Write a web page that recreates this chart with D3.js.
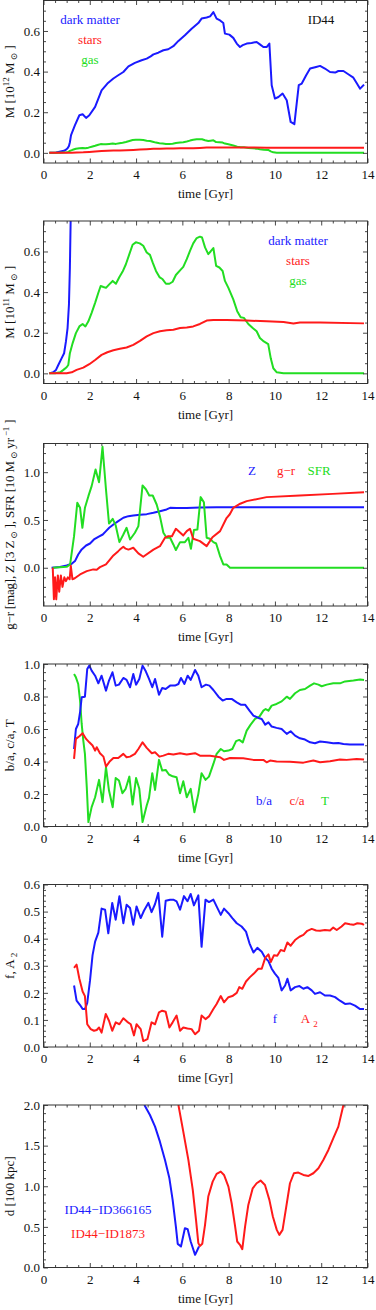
<!DOCTYPE html>
<html>
<head>
<meta charset="utf-8">
<script src="https://cdn.jsdelivr.net/npm/d3@7"></script>
<style>
body { margin: 0; background: #fff; }
svg text { font-family: "Liberation Serif", "Times New Roman", "DejaVu Serif", serif; font-size: 13px; fill: #111; }
</style>
</head>
<body>
<svg id="chart" width="376" height="1310"></svg>
<script>
// ticks
var xTicks = [0, 2, 4, 6, 8, 10, 12, 14];
var massTicks = [0, 0.2, 0.4, 0.6];
var colourTicks = [0, 0.5, 1.0];
var shapeTicks = [0, 0.2, 0.4, 0.6, 0.8, 1.0];
var barTicks = [0, 0.1, 0.2, 0.3, 0.4, 0.5, 0.6];
var distTicks = [0, 0.5, 1.0, 1.5, 2.0];

// masses in 10^11 Msun, [time Gyr, value]
var dmMass = [[0.25,0],[0.42,0.005],[0.54,0.017],[0.64,0.041],[0.78,0.074],[0.89,0.099],[0.97,0.157],[1.04,0.223],[1.10,0.339],[1.14,0.52],
  [1.19,0.87],[1.36,1.36],[1.55,1.85],[1.69,1.90],[1.84,1.72],[1.98,1.85],[2.23,2.26],[2.51,3.08],[2.76,3.41],[3.02,3.66],
  [3.23,3.82],[3.45,3.98],[3.67,4.26],[3.95,4.43],[4.24,4.56],[4.46,4.64],[4.63,4.75],[4.75,4.85],[4.96,4.93],[5.18,5.05],
  [5.39,5.10],[5.61,5.25],[5.83,5.51],[6.11,5.79],[6.40,6.11],[6.69,6.39],[6.83,6.61],[7.05,6.66],[7.20,6.72],[7.34,6.93],
  [7.48,6.61],[7.63,6.52],[7.77,6.39],[7.84,5.87],[8.03,5.82],[8.20,5.66],[8.35,5.38],[8.49,5.21],[8.61,5.30],[8.78,5.38],
  [8.99,5.41],[9.21,5.46],[9.35,5.34],[9.50,5.21],[9.64,5.21],[9.76,5.38],[9.86,3.33],[10.0,2.67],[10.15,2.75],[10.33,2.92],
  [10.51,2.59],[10.68,1.52],[10.84,1.41],[11.03,3.33],[11.16,3.41],[11.35,3.82],[11.52,4.15],[11.78,4.23],[11.95,4.28],[12.16,4.15],
  [12.38,3.98],[12.6,3.95],[12.74,4.03],[12.96,4.03],[13.17,3.87],[13.39,3.70],[13.53,3.44],[13.68,3.16],[13.85,3.36]];
var starMass = [[0.25,0],[1.0,0],[1.22,0.005],[1.43,0.017],[1.72,0.028],[1.98,0.045],[2.23,0.066],[2.51,0.091],[2.76,0.104],[3.02,0.114],
  [3.30,0.121],[3.59,0.127],[3.88,0.140],[4.17,0.160],[4.46,0.182],[4.75,0.198],[5.03,0.207],[5.32,0.212],[5.61,0.215],[5.90,0.223],
  [6.19,0.226],[6.47,0.231],[6.76,0.243],[7.05,0.260],[7.34,0.263],[7.92,0.263],[8.78,0.260],[9.64,0.256],[10.37,0.253],[10.80,0.245],
  [11.08,0.250],[11.95,0.250],[13.85,0.246]];
var gasMass = [[0.25,0],[0.5,0],[0.72,0.005],[0.86,0.017],[1.0,0.03],[1.07,0.041],[1.14,0.099],[1.26,0.149],[1.40,0.198],[1.55,0.231],
  [1.69,0.243],[1.81,0.231],[1.94,0.256],[2.08,0.298],[2.23,0.347],[2.37,0.397],[2.47,0.430],[2.59,0.425],[2.70,0.421],[2.84,0.438],
  [2.99,0.455],[3.13,0.441],[3.28,0.474],[3.42,0.501],[3.56,0.537],[3.71,0.587],[3.85,0.633],[3.99,0.645],[4.16,0.640],[4.31,0.628],
  [4.46,0.595],[4.60,0.583],[4.72,0.545],[4.86,0.504],[5.01,0.474],[5.15,0.463],[5.29,0.441],[5.44,0.441],[5.58,0.451],[5.72,0.484],
  [5.90,0.507],[6.04,0.524],[6.19,0.562],[6.33,0.603],[6.47,0.640],[6.62,0.666],[6.76,0.673],[6.85,0.669],[6.98,0.620],[7.12,0.587],
  [7.22,0.600],[7.34,0.617],[7.46,0.529],[7.60,0.521],[7.74,0.504],[7.84,0.455],[7.99,0.421],[8.20,0.364],[8.37,0.306],[8.52,0.276],
  [8.66,0.273],[8.85,0.243],[9.04,0.223],[9.21,0.207],[9.35,0.174],[9.52,0.157],[9.71,0.144],[9.82,0.074],[9.93,0.025],[10.08,0.005],
  [10.37,0],[13.85,0]];

// metallicity, colour, star formation
var metalZ = [[0.35,0],[0.71,0.007],[1.0,0.024],[1.22,0.042],[1.36,0.070],[1.50,0.139],[1.65,0.192],[1.84,0.233],[2.01,0.254],[2.18,0.296],
  [2.37,0.324],[2.56,0.348],[2.70,0.383],[2.84,0.418],[3.02,0.453],[3.23,0.488],[3.45,0.523],[3.67,0.540],[3.88,0.547],[4.17,0.554],
  [4.46,0.561],[4.75,0.575],[5.03,0.592],[5.32,0.610],[5.47,0.627],[5.75,0.624],[6.19,0.624],[6.76,0.631],[7.48,0.634],[13.85,0.634]];
var colourGR = [[0.40,0],[0.45,-0.33],[0.50,-0.10],[0.55,-0.33],[0.62,-0.08],[0.68,-0.25],[0.75,-0.08],[0.82,-0.20],[0.90,-0.10],[0.97,-0.14],
  [1.05,-0.10],[1.13,-0.12],[1.18,0.02],[1.25,-0.12],[1.35,-0.11],[1.58,-0.07],[1.87,-0.035],[2.15,-0.017],[2.30,-0.02],[2.44,0.007],
  [2.70,0.035],[3.02,0.129],[3.23,0.174],[3.30,0.19],[3.45,0.22],[3.55,0.20],[3.67,0.19],[3.88,0.209],[4.10,0.15],[4.31,0.115],
  [4.75,0.19],[5.03,0.226],[5.25,0.314],[5.39,0.331],[5.55,0.33],[5.72,0.408],[6.04,0.338],[6.19,0.383],[6.33,0.408],[6.47,0.303],
  [6.76,0.279],[7.05,0.226],[7.30,0.32],[7.63,0.383],[7.91,0.52],[8.05,0.56],[8.20,0.627],[8.50,0.67],[8.78,0.697],[9.64,0.739],
  [11.08,0.756],[12.5,0.773],[13.85,0.79]];
var sfrRate = [[0.40,0],[1.0,0.01],[1.15,0.035],[1.32,0.33],[1.46,0.68],[1.58,0.627],[1.68,0.418],[1.79,0.627],[1.94,0.749],[2.08,0.854],
  [2.25,1.028],[2.40,0.895],[2.55,1.265],[2.70,0.819],[2.83,0.463],[2.99,0.512],[3.12,0.443],[3.28,0.268],[3.45,0.348],[3.59,0.418],
  [3.74,0.296],[3.95,0.366],[4.10,0.436],[4.28,0.861],[4.43,0.819],[4.57,0.756],[4.72,0.756],[4.89,0.662],[5.03,0.540],[5.18,0.366],
  [5.32,0.314],[5.47,0.314],[5.61,0.244],[5.72,0.185],[5.90,0.268],[6.11,0.268],[6.26,0.314],[6.37,0.199],[6.50,0.394],[6.65,0.40],
  [6.79,0.739],[6.93,0.686],[7.05,0.314],[7.19,0.303],[7.34,0.268],[7.46,0.254],[7.63,0.122],[7.77,0.035],[7.91,0.035],[8.06,0],
  [13.85,0]];

// shape ratios
var ratioBA = [[1.32,0.477],[1.40,0.600],[1.50,0.631],[1.58,0.703],[1.65,0.795],[1.79,0.799],[1.89,0.969],[1.98,0.99],[2.08,0.959],[2.23,0.928],
  [2.37,0.881],[2.51,0.928],[2.70,0.836],[2.83,0.898],[2.98,0.949],[3.12,0.867],[3.26,0.873],[3.45,0.914],[3.59,0.902],[3.74,0.857],
  [3.88,0.939],[4.0,0.873],[4.14,0.908],[4.28,0.99],[4.42,0.955],[4.56,0.908],[4.70,0.857],[4.82,0.908],[4.99,0.811],[5.13,0.852],
  [5.28,0.846],[5.47,0.867],[5.68,0.867],[5.83,0.877],[5.94,0.914],[6.09,0.877],[6.23,0.928],[6.36,0.902],[6.55,0.963],[6.69,0.928],
  [6.83,0.857],[7.02,0.873],[7.17,0.867],[7.34,0.840],[7.56,0.799],[7.74,0.775],[7.91,0.785],[8.13,0.785],[8.35,0.764],[8.52,0.750],
  [8.71,0.750],[8.90,0.713],[9.07,0.682],[9.29,0.668],[9.43,0.662],[9.58,0.627],[9.72,0.641],[9.86,0.615],[10.07,0.607],[10.29,0.600],
  [10.51,0.570],[10.68,0.586],[10.87,0.559],[11.08,0.543],[11.30,0.535],[11.52,0.518],[11.73,0.512],[11.95,0.523],[12.24,0.518],[12.52,0.512],
  [12.74,0.514],[12.96,0.508],[13.24,0.504],[13.85,0.504]];
var ratioCA = [[1.32,0.416],[1.40,0.539],[1.55,0.555],[1.69,0.574],[1.84,0.539],[1.98,0.518],[2.12,0.498],[2.23,0.467],[2.30,0.488],[2.44,0.451],
  [2.59,0.430],[2.70,0.369],[2.87,0.402],[3.02,0.422],[3.23,0.422],[3.45,0.447],[3.59,0.426],[3.74,0.430],[3.95,0.447],[4.10,0.477],
  [4.28,0.518],[4.46,0.484],[4.68,0.451],[4.82,0.457],[5.01,0.430],[5.18,0.436],[5.39,0.447],[5.61,0.443],[5.90,0.451],[6.19,0.443],
  [6.55,0.451],[6.76,0.436],[7.20,0.436],[7.63,0.426],[7.80,0.410],[8.06,0.422],[8.63,0.420],[9.07,0.410],[9.50,0.410],[9.64,0.395],
  [9.79,0.406],[10.07,0.400],[10.65,0.398],[11.23,0.393],[11.66,0.406],[11.95,0.395],[12.38,0.402],[12.81,0.412],[13.10,0.410],[13.53,0.416],
  [13.85,0.412]];
var triaxT = [[1.32,0.939],[1.40,0.918],[1.50,0.877],[1.58,0.775],[1.65,0.631],[1.72,0.529],[1.79,0.447],[1.87,0.242],[1.94,0.027],[2.08,0.119],
  [2.23,0.180],[2.40,0.287],[2.55,0.150],[2.70,0.365],[2.83,0.221],[2.99,0.119],[3.12,0.299],[3.26,0.283],[3.41,0.205],[3.55,0.232],
  [3.71,0.307],[3.85,0.135],[4.0,0.299],[4.14,0.232],[4.28,0.027],[4.46,0.129],[4.56,0.176],[4.70,0.328],[4.82,0.225],[4.99,0.410],
  [5.13,0.344],[5.28,0.348],[5.42,0.320],[5.58,0.309],[5.75,0.303],[5.90,0.205],[6.04,0.279],[6.19,0.180],[6.36,0.232],[6.52,0.088],
  [6.69,0.201],[6.83,0.328],[7.0,0.287],[7.15,0.307],[7.34,0.385],[7.48,0.447],[7.66,0.477],[7.80,0.463],[7.99,0.467],[8.16,0.477],
  [8.32,0.525],[8.46,0.533],[8.61,0.518],[8.78,0.590],[8.95,0.627],[9.14,0.662],[9.33,0.676],[9.50,0.713],[9.60,0.723],[9.72,0.713],
  [9.86,0.744],[10.07,0.754],[10.29,0.770],[10.51,0.799],[10.65,0.785],[10.87,0.820],[11.08,0.840],[11.30,0.846],[11.52,0.867],[11.69,0.881],
  [11.88,0.873],[12.02,0.863],[12.24,0.873],[12.52,0.881],[12.81,0.881],[13.03,0.893],[13.39,0.898],[13.68,0.904],[13.85,0.902]];

// disc fraction and bar strength
var discF = [[1.32,0.227],[1.43,0.171],[1.58,0.155],[1.69,0.140],[1.79,0.140],[1.89,0.163],[2.01,0.246],[2.12,0.339],[2.23,0.389],[2.37,0.422],
  [2.51,0.511],[2.66,0.507],[2.80,0.420],[2.97,0.532],[3.12,0.470],[3.28,0.557],[3.45,0.457],[3.59,0.525],[3.74,0.513],[3.88,0.451],
  [4.02,0.519],[4.20,0.476],[4.34,0.503],[4.53,0.532],[4.67,0.498],[4.82,0.528],[4.96,0.569],[5.13,0.407],[5.28,0.540],[5.47,0.544],
  [5.61,0.544],[5.75,0.538],[5.90,0.507],[6.07,0.557],[6.22,0.538],[6.36,0.565],[6.50,0.523],[6.69,0.560],[6.83,0.370],[7.0,0.544],
  [7.15,0.535],[7.34,0.544],[7.48,0.519],[7.66,0.488],[7.80,0.511],[7.99,0.494],[8.16,0.476],[8.35,0.457],[8.56,0.445],[8.75,0.426],
  [8.90,0.383],[9.07,0.349],[9.24,0.366],[9.43,0.352],[9.58,0.329],[9.72,0.317],[9.86,0.289],[10.0,0.271],[10.15,0.255],[10.29,0.209],
  [10.44,0.227],[10.54,0.252],[10.68,0.209],[10.87,0.221],[11.06,0.225],[11.23,0.215],[11.40,0.221],[11.59,0.209],[11.73,0.196],[11.95,0.202],
  [12.16,0.190],[12.38,0.190],[12.60,0.184],[12.81,0.171],[13.03,0.159],[13.24,0.161],[13.46,0.153],[13.68,0.140],[13.85,0.140]];
var barA2 = [[1.32,0.292],[1.43,0.304],[1.55,0.252],[1.69,0.205],[1.79,0.188],[1.89,0.084],[2.04,0.066],[2.18,0.060],[2.30,0.063],[2.40,0.072],
  [2.51,0.053],[2.69,0.122],[2.83,0.097],[2.97,0.060],[3.12,0.091],[3.28,0.084],[3.45,0.106],[3.62,0.093],[3.77,0.084],[3.91,0.043],
  [4.02,0.084],[4.20,0.066],[4.31,0.022],[4.49,0.029],[4.67,0.091],[4.82,0.084],[4.99,0.128],[5.13,0.134],[5.28,0.130],[5.44,0.072],
  [5.58,0.091],[5.75,0.116],[5.90,0.060],[6.04,0.072],[6.22,0.068],[6.40,0.066],[6.55,0.047],[6.72,0.060],[6.83,0.116],[7.0,0.103],
  [7.15,0.113],[7.34,0.140],[7.48,0.159],[7.66,0.188],[7.80,0.165],[7.99,0.184],[8.16,0.188],[8.35,0.200],[8.46,0.221],[8.59,0.215],
  [8.75,0.242],[8.92,0.258],[9.09,0.271],[9.28,0.289],[9.43,0.289],[9.58,0.329],[9.72,0.342],[9.82,0.314],[9.96,0.339],[10.10,0.337],
  [10.25,0.358],[10.40,0.354],[10.54,0.386],[10.68,0.374],[10.87,0.395],[11.06,0.407],[11.23,0.414],[11.40,0.429],[11.59,0.436],[11.78,0.430],
  [11.95,0.429],[12.16,0.432],[12.38,0.430],[12.52,0.441],[12.67,0.432],[12.88,0.445],[13.03,0.457],[13.24,0.453],[13.39,0.451],[13.56,0.457],
  [13.75,0.455],[13.85,0.451]];

// distances in 100 kpc
var distA = [[4.36,2.0],[4.60,1.877],[4.82,1.734],[5.03,1.549],[5.25,1.324],[5.44,1.098],[5.58,0.832],[5.72,0.504],[5.80,0.291],[5.94,0.258],
  [6.11,0.484],[6.23,0.471],[6.36,0.320],[6.55,0.156],[6.72,0.258]];
var distB = [[5.83,2.0],[6.04,1.672],[6.26,1.324],[6.45,0.955],[6.59,0.586],[6.69,0.30],[6.76,0.265],[6.86,0.291],[6.98,0.525],[7.12,0.873],
  [7.31,1.057],[7.48,1.152],[7.66,1.180],[7.80,1.139],[7.99,0.996],[8.13,0.791],[8.27,0.525],[8.37,0.320],[8.49,0.279],[8.59,0.225],
  [8.71,0.504],[8.85,0.770],[9.04,0.975],[9.21,1.037],[9.38,1.070],[9.57,1.016],[9.76,0.832],[9.91,0.627],[10.08,0.463],[10.19,0.402],
  [10.33,0.463],[10.48,0.730],[10.65,1.037],[10.82,1.160],[11.01,1.168],[11.23,1.139],[11.45,1.127],[11.66,1.160],[11.88,1.221],[12.09,1.324],
  [12.31,1.447],[12.52,1.590],[12.74,1.734],[12.96,2.0]];

var BLUE = "#1a1aff", RED = "#ff1a1a", GREEN = "#22dd22";
var plotLeft = 43.5, plotRight = 367.5, plotHeight = 162.5;

var panels = [
    { top: 0.5, domain: [-0.05, 0.75], ticks: massTicks, minor: 0.05, unit: 0.1, ylen: 73,
      ylabel: [["M  [10"], ["12", "sup"], [" M"], [" \u2299", "sub"], [" ]"]],
      series: [[dmMass, BLUE], [gasMass, GREEN], [starMass, RED]],
      legend: [["dark matter", BLUE, 90, 23.5], ["stars", RED, 90, 43.5], ["gas", GREEN, 90, 63.5], ["ID44", "#111", 321, 23.5]] },
    { top: 221, domain: [-0.05, 0.75], ticks: massTicks, minor: 0.05, unit: 1, ylen: 73,
      ylabel: [["M  [10"], ["11", "sup"], [" M"], [" \u2299", "sub"], [" ]"]],
      series: [[dmMass, BLUE], [gasMass, GREEN], [starMass, RED]],
      legend: [["dark matter", BLUE, 298, 23.7], ["stars", RED, 298, 43.7], ["gas", GREEN, 298, 63.7]] },
    { top: 443.5, domain: [-0.4, 1.3], ticks: colourTicks, minor: 0.1, unit: 1, ylen: 210,
      ylabel: [["g\u2212r [mag],  Z [3 Z"], [" \u2299", "sub"], [" ], SFR [10 M"], [" \u2299", "sub"], [" yr"], [" \u22121", "sup"], [" ]"]],
      series: [[metalZ, BLUE], [sfrRate, GREEN], [colourGR, RED]],
      legend: [["Z", BLUE, 252, 31.8], ["g\u2212r", RED, 286, 31.8], ["SFR", GREEN, 319, 31.8]] },
    { top: 664, domain: [0, 1], ticks: shapeTicks, minor: 0.05, unit: 1,
      ylabel: [["b/a,  c/a,  T"]],
      series: [[triaxT, GREEN], [ratioBA, BLUE], [ratioCA, RED]],
      legend: [["b/a", BLUE, 264, 140.7], ["c/a", RED, 297, 140.7], ["T", GREEN, 325, 140.7]] },
    { top: 884.5, domain: [0, 0.6], ticks: barTicks, minor: 0.02, unit: 1,
      ylabel: [["f,  A"], [" 2", "sub"]],
      series: [[discF, BLUE], [barA2, RED]],
      legend: [["f", BLUE, 275, 138.2], ["A", RED, 305.5, 138.2], ["2", RED, 315.5, 142.5, 9]] },
    { top: 1105, domain: [0, 2], ticks: distTicks, minor: 0.1, unit: 1,
      ylabel: [["d [100 kpc]"]],
      series: [[distA, BLUE], [distB, RED]],
      legend: [["ID44\u2212ID366165", BLUE, 108, 109], ["ID44\u2212ID1873", RED, 108, 133]] }
];

/*
 * ticks pointing into the frame, on all four sides
 */
function drawTicks(g, x, y, p) {
    var d = p.domain, eps = 1e-6,
        xMinor = d3.range(0.5, 14, 0.5).filter(function(v) { return v % 2 !== 0; }),
        yMinor = d3.range(Math.ceil(d[0] / p.minor - eps) * p.minor, d[1] - eps, p.minor)
            .filter(function(v) {
                return v > d[0] + eps && p.ticks.every(function(t) { return Math.abs(t - v) > eps; });
            }),
        axes = [
            [d3.axisBottom(x).tickValues(xTicks).tickSize(-4.5).tickPadding(7), "translate(0," + plotHeight + ")", true],
            [d3.axisBottom(x).tickValues(xMinor).tickSize(-2.5).tickFormat(""), "translate(0," + plotHeight + ")"],
            [d3.axisTop(x).tickValues(xTicks).tickSize(-4.5).tickFormat(""), null],
            [d3.axisTop(x).tickValues(xMinor).tickSize(-2.5).tickFormat(""), null],
            [d3.axisLeft(y).tickValues(p.ticks).tickSize(-4.5).tickPadding(3.5).tickFormat(d3.format(".1f")), "translate(" + plotLeft + ",0)", true],
            [d3.axisLeft(y).tickValues(yMinor).tickSize(-2.5).tickFormat(""), "translate(" + plotLeft + ",0)"],
            [d3.axisRight(y).tickValues(p.ticks).tickSize(-4.5).tickFormat(""), "translate(" + plotRight + ",0)"],
            [d3.axisRight(y).tickValues(yMinor).tickSize(-2.5).tickFormat(""), "translate(" + plotRight + ",0)"]
        ];

    axes.forEach(function(a) {
        var ag = g.append("g").call(a[0]);
        if (a[1]) ag.attr("transform", a[1]);
        ag.select(".domain").remove();
        ag.selectAll("line").attr("stroke", "#333").attr("stroke-width", 0.9);
        if (!a[2]) ag.selectAll("text").remove();
    });
}

/*
 * rotated y label built from tspans (sub/superscripts),
 * spaced out to the length it has in the figure
 */
function drawYLabel(g, parts, len) {
    var t = g.append("text")
        .attr("transform", "translate(13.5," + (plotHeight / 2) + ") rotate(-90)")
        .attr("text-anchor", "middle");
    var shift = 0;
    parts.forEach(function(part) {
        var s = t.append("tspan").text(part[0]), want = 0;
        if (part[1] === "sup") want = -5;
        if (part[1] === "sub") want = 3;
        if (part[1]) s.style("font-size", "9px");
        s.attr("dy", want - shift);
        shift = want;
    });
    if (len) {
        var actual = t.node().getComputedTextLength(),
            n = t.text().length;
        if (actual > 0 && n > 1) {
            t.style("letter-spacing", ((len - actual) / n) + "px");
        }
    }
}

function drawPanel(svg, p, i) {
    var g = svg.append("g").attr("transform", "translate(0," + p.top + ")"),
        x = d3.scaleLinear().domain([0, 14]).range([plotLeft, plotRight]),
        y = d3.scaleLinear().domain(p.domain).range([plotHeight, 0]),
        line = d3.line()
            .x(function(d) { return x(d[0]); })
            .y(function(d) { return y(d[1] * p.unit); });

    g.append("clipPath").attr("id", "clip" + i)
        .append("rect")
        .attr("x", plotLeft)
        .attr("y", 0)
        .attr("width", plotRight - plotLeft)
        .attr("height", plotHeight);

    var lines = g.append("g").attr("clip-path", "url(#clip" + i + ")");
    p.series.forEach(function(s) {
        lines.append("path")
            .attr("d", line(s[0]))
            .attr("fill", "none")
            .attr("stroke", s[1])
            .attr("stroke-width", 2)
            .attr("stroke-linejoin", "round");
    });

    g.append("rect")
        .attr("x", plotLeft)
        .attr("y", 0)
        .attr("width", plotRight - plotLeft)
        .attr("height", plotHeight)
        .attr("fill", "none")
        .attr("stroke", "#333")
        .attr("stroke-width", 1);

    drawTicks(g, x, y, p);

    g.append("text")
        .attr("x", (plotLeft + plotRight) / 2)
        .attr("y", plotHeight + 35)
        .attr("text-anchor", "middle")
        .text("time [Gyr]");

    drawYLabel(g, p.ylabel, p.ylen);

    p.legend.forEach(function(l) {
        g.append("text")
            .attr("x", l[2])
            .attr("y", l[3])
            .attr("text-anchor", "middle")
            .style("fill", l[1])
            .style("font-size", (l[4] || 13) + "px")
            .text(l[0]);
    });
}

var svg = d3.select("#chart");
panels.forEach(function(p, i) { drawPanel(svg, p, i); });
</script>
</body>
</html>
